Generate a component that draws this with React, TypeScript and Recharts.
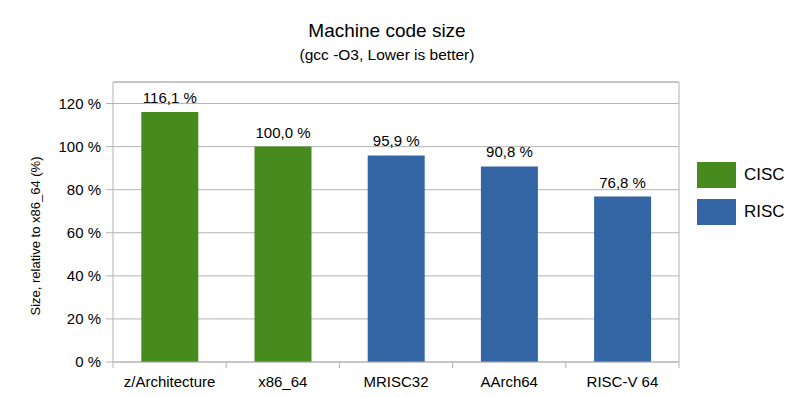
import React from "react";
import {
  BarChart,
  Bar,
  Cell,
  XAxis,
  YAxis,
  CartesianGrid,
  ReferenceLine,
  LabelList,
} from "recharts";

const architectures = ["z/Architecture", "x86_64", "MRISC32", "AArch64", "RISC-V 64"];
const codeSize = [116.1, 100.0, 95.9, 90.8, 76.8];
const family = ["CISC", "CISC", "RISC", "RISC", "RISC"];
const yTicks = [0, 20, 40, 60, 80, 100, 120];
const yMax = 130;

const colors: Record<string, string> = { CISC: "#478a1d", RISC: "#3465a4" };
const legendItems = ["CISC", "RISC"];

const data = architectures.map((name, i) => ({
  name,
  size: codeSize[i],
  family: family[i],
}));

const FONT = '"Liberation Sans", Arial, sans-serif';
const GRID = "#b3b3b3";
const PLOT_LEFT = 113;
const PLOT_RIGHT = 679;
const BAND = (PLOT_RIGHT - PLOT_LEFT) / architectures.length;

const fmtPct = (v: unknown) => `${Number(v).toFixed(1).replace(".", ",")} %`;

// category label plus tick marks on the category boundaries
function CatTick(props: any) {
  const { x, y, payload, index } = props;
  const left = x - BAND / 2;
  const last = index === architectures.length - 1;
  return (
    <g>
      <line x1={left} x2={left} y1={y} y2={y + 6} stroke={GRID} />
      {last && <line x1={left + BAND} x2={left + BAND} y1={y} y2={y + 6} stroke={GRID} />}
      <text x={x} y={y + 25} textAnchor="middle" fill="#000" fontSize={15} fontFamily={FONT}>
        {payload.value}
      </text>
    </g>
  );
}

function ValueLabel(props: any) {
  const { x, y, width, value } = props;
  return (
    <text x={x + width / 2} y={y - 9} textAnchor="middle" fill="#000" fontSize={15} fontFamily={FONT}>
      {fmtPct(value)}
    </text>
  );
}

export default function App() {
  return (
    <div style={{ position: "absolute", left: 0, top: 0, width: 800, height: 397, background: "#fff", fontFamily: FONT }}>
      <div style={{ position: "absolute", left: 0, width: 774, top: 20, textAlign: "center", fontSize: 19, color: "#000" }}>
        Machine code size
      </div>
      <div style={{ position: "absolute", left: 0, width: 774, top: 46, textAlign: "center", fontSize: 15.5, color: "#000" }}>
        (gcc -O3, Lower is better)
      </div>
      <div
        style={{
          position: "absolute",
          left: 35,
          top: 236,
          transform: "translate(-50%, -50%) rotate(-90deg)",
          whiteSpace: "nowrap",
          fontSize: 13,
          color: "#000",
        }}
      >
        Size, relative to x86_64 (%)
      </div>
      <div style={{ position: "absolute", left: 697, top: 162 }}>
        {legendItems.map((k) => (
          <div key={k} style={{ display: "flex", alignItems: "center", height: 26, marginBottom: 11 }}>
            <div style={{ width: 39, height: 26, background: colors[k], marginRight: 8 }} />
            <span style={{ fontSize: 17, color: "#000" }}>{k}</span>
          </div>
        ))}
      </div>
      <BarChart
        width={800}
        height={397}
        data={data}
        margin={{ top: 82, right: 800 - PLOT_RIGHT - 1, left: PLOT_LEFT - 60, bottom: 5 }}
        barCategoryGap="25%"
        style={{ position: "absolute", left: 0, top: 0 }}
      >
        <CartesianGrid vertical={false} stroke={GRID} />
        <XAxis
          dataKey="name"
          height={30}
          axisLine={{ stroke: GRID }}
          tickLine={false}
          tickSize={0}
          tickMargin={0}
          tick={<CatTick />}
          interval={0}
        />
        <YAxis
          domain={[0, yMax]}
          ticks={yTicks}
          width={60}
          tickSize={7}
          tickMargin={5}
          tickFormatter={(v) => `${v} %`}
          axisLine={{ stroke: GRID }}
          tickLine={{ stroke: GRID }}
          tick={{ fill: "#000", fontSize: 15, fontFamily: FONT }}
        />
        <YAxis
          yAxisId="right"
          orientation="right"
          domain={[0, yMax]}
          width={1}
          tick={false}
          tickLine={false}
          axisLine={{ stroke: GRID }}
        />
        <ReferenceLine y={yMax} stroke={GRID} />
        <Bar dataKey="size" isAnimationActive={false}>
          {data.map((d) => (
            <Cell key={d.name} fill={colors[d.family]} />
          ))}
          <LabelList dataKey="size" content={<ValueLabel />} />
        </Bar>
      </BarChart>
    </div>
  );
}
